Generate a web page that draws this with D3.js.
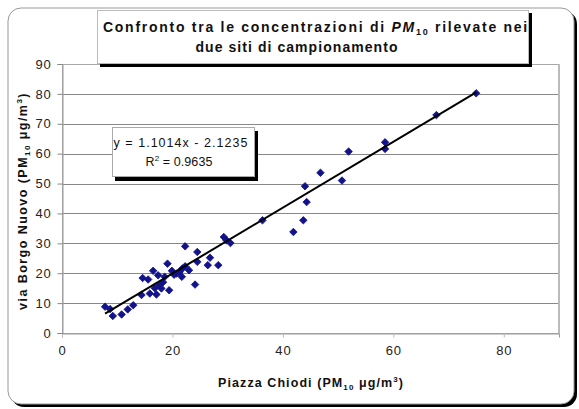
<!DOCTYPE html>
<html><head><meta charset="utf-8">
<script src="https://cdn.jsdelivr.net/npm/d3@7"></script>
<style>body{margin:0;background:#fff}svg{display:block}text{font-family:"Liberation Sans",Arial,sans-serif}</style>
</head><body><svg id="c" width="579" height="409"></svg>
<script>
const xValues = [75.0,67.8,58.5,58.5,51.9,46.8,50.7,44.0,44.3,43.7,41.9,36.3,
  7.8,8.7,9.2,10.8,11.9,12.9,14.4,14.6,15.6,15.9,16.5,17.1,17.4,18.0,18.6,19.1,19.4,19.9,20.8,21.7,21.8,22.3,22.3,24.1,24.5,24.5,26.4,26.8,28.3,29.3,29.8,30.5,
  16.8,18.3,20.3,21.3,23.0,17.6];
const yValues = [80.2,72.9,63.8,61.6,60.7,53.6,51.0,49.1,43.8,37.7,33.8,37.7,
  8.8,8.0,5.7,6.2,7.9,9.3,12.7,18.4,17.9,13.2,20.8,12.9,19.3,14.9,18.8,23.2,14.3,20.8,19.9,18.8,21.6,29.0,22.3,16.2,27.1,23.8,22.7,25.2,22.7,32.1,31.0,30.1,
  15.0,17.0,19.5,20.5,21.0,16.0];
const xTicks = [0,20,40,60,80];
const yTicks = [0,10,20,30,40,50,60,70,80,90];
const slope = 1.1014, intercept = -2.1235;
const eqLines = ["y = 1.1014x - 2.1235", "R² = 0.9635"];

const svg = d3.select("#c");
function fit(sel, w){
  const n = sel.node(); const len = n.getComputedTextLength();
  const chars = n.textContent.length;
  sel.attr("letter-spacing", ((w-len)/chars).toFixed(2));
}
// outer frame with shadow
svg.append("rect").attr("x",11).attr("y",11).attr("width",566).attr("height",396).attr("rx",13).attr("fill","#000");
svg.append("rect").attr("x",8).attr("y",8).attr("width",566).attr("height",396).attr("rx",13).attr("fill","#fff").attr("stroke","#999").attr("stroke-width",1);

const x = d3.scaleLinear().domain([0,90]).range([62,559]);
const y = d3.scaleLinear().domain([0,90]).range([333,64]);

// gridlines
svg.append("g").selectAll("line").data(yTicks.filter(d=>d>0)).join("line")
  .attr("x1",62).attr("x2",559).attr("y1",d=>Math.round(y(d))+0.5).attr("y2",d=>Math.round(y(d))+0.5)
  .attr("stroke","#888").attr("stroke-width",1);
svg.append("rect").attr("x",62.5).attr("y",64.5).attr("width",496).attr("height",269).attr("fill","none").attr("stroke","#aaa");
svg.append("line").attr("x1",559).attr("x2",559).attr("y1",64).attr("y2",334).attr("stroke","#bbb").attr("stroke-width",2);

// axes
const xAxis = d3.axisBottom(x).tickValues(xTicks).tickSize(4).tickPadding(8).tickFormat(d3.format("d"));
const gx = svg.append("g").attr("transform","translate(0,333.5)").call(xAxis);
gx.select(".domain").attr("stroke","#999");
gx.selectAll(".tick line").attr("stroke","#bbb");
gx.selectAll("text").attr("font-size",13).attr("fill","#222").attr("letter-spacing",0.8);
const yAxis = d3.axisLeft(y).tickValues(yTicks).tickSize(5).tickPadding(6).tickFormat(d3.format("d"));
const gy = svg.append("g").attr("transform","translate(62.5,0)").call(yAxis);
gy.select(".domain").attr("stroke","#999");
gy.selectAll(".tick line").attr("stroke","#888");
gy.selectAll("text").attr("font-size",13).attr("fill","#222").attr("letter-spacing",0.8);

// points
const pts = xValues.map((v,i)=>[v,yValues[i]]);
svg.append("g").selectAll("path").data(pts).join("path")
  .attr("transform",d=>`translate(${x(d[0])},${y(d[1])})`)
  .attr("d",d3.symbol(d3.symbolDiamond2,36))
  .attr("fill","#12128a").attr("stroke","#12128a").attr("stroke-width",0.8);

// trendline
const xmin = d3.min(xValues), xmax = d3.max(xValues);
svg.append("line").attr("x1",x(xmin)).attr("y1",y(slope*xmin+intercept))
  .attr("x2",x(xmax)).attr("y2",y(slope*xmax+intercept)).attr("stroke","#000").attr("stroke-width",2);

// equation box
svg.append("rect").attr("x",115).attr("y",131).attr("width",143).attr("height",50).attr("fill","#000");
svg.append("rect").attr("x",112.5).attr("y",127.5).attr("width",142).attr("height",49).attr("fill","#fff").attr("stroke","#aaa");
const e1 = svg.append("text").attr("x",181).attr("y",147).attr("text-anchor","middle").attr("font-size",12.5).attr("fill","#111").text(eqLines[0]);
fit(e1,135);
const r2 = svg.append("text").attr("x",179).attr("y",166).attr("text-anchor","middle").attr("font-size",12.5).attr("fill","#111");
r2.append("tspan").text("R");
r2.append("tspan").attr("font-size",8).attr("dy",-5).text("2");
r2.append("tspan").attr("dy",5).text(" = 0.9635");
fit(r2,67);

// title box
svg.append("rect").attr("x",100).attr("y",13).attr("width",432).attr("height",54).attr("fill","#000");
svg.append("rect").attr("x",97.5).attr("y",10.5).attr("width",431).attr("height",53).attr("fill","#fff").attr("stroke","#bbb");
svg.append("clipPath").attr("id","tc").append("rect").attr("x",98).attr("y",11).attr("width",430).attr("height",52);
const tg = svg.append("g").attr("clip-path","url(#tc)");
const t1 = tg.append("text").attr("x",103).attr("y",32).attr("font-size",14).attr("font-weight","bold").attr("fill","#111");
t1.append("tspan").text("Confronto tra le concentrazioni di ");
t1.append("tspan").attr("font-style","italic").text("PM");
t1.append("tspan").attr("font-size",9).attr("dy",3).text("10");
t1.append("tspan").attr("dy",-3).text(" rilevate nei");
fit(t1,426);
const t2 = tg.append("text").attr("x",297).attr("y",52).attr("text-anchor","middle").attr("font-size",14).attr("font-weight","bold").attr("fill","#111").text("due siti di campionamento");
fit(t2,203);

// x label
const xl = svg.append("text").attr("x",311).attr("y",387).attr("text-anchor","middle").attr("font-size",12.5).attr("font-weight","bold").attr("fill","#111");
xl.append("tspan").text("Piazza Chiodi (PM");
xl.append("tspan").attr("font-size",8).attr("dy",3).text("10");
xl.append("tspan").attr("dy",-3).text(" μg/m");
xl.append("tspan").attr("font-size",8).attr("dy",-5).text("3");
xl.append("tspan").attr("dy",5).text(")");
fit(xl,186);

// y label
const yl = svg.append("text").attr("transform","translate(27,201) rotate(-90)").attr("text-anchor","middle").attr("font-size",12.5).attr("font-weight","bold").attr("fill","#111");
yl.append("tspan").text("via Borgo Nuovo (PM");
yl.append("tspan").attr("font-size",8).attr("dy",3).text("10");
yl.append("tspan").attr("dy",-3).text(" μg/m");
yl.append("tspan").attr("font-size",8).attr("dy",-5).text("3");
yl.append("tspan").attr("dy",5).text(")");
fit(yl,218);
</script></body></html>
